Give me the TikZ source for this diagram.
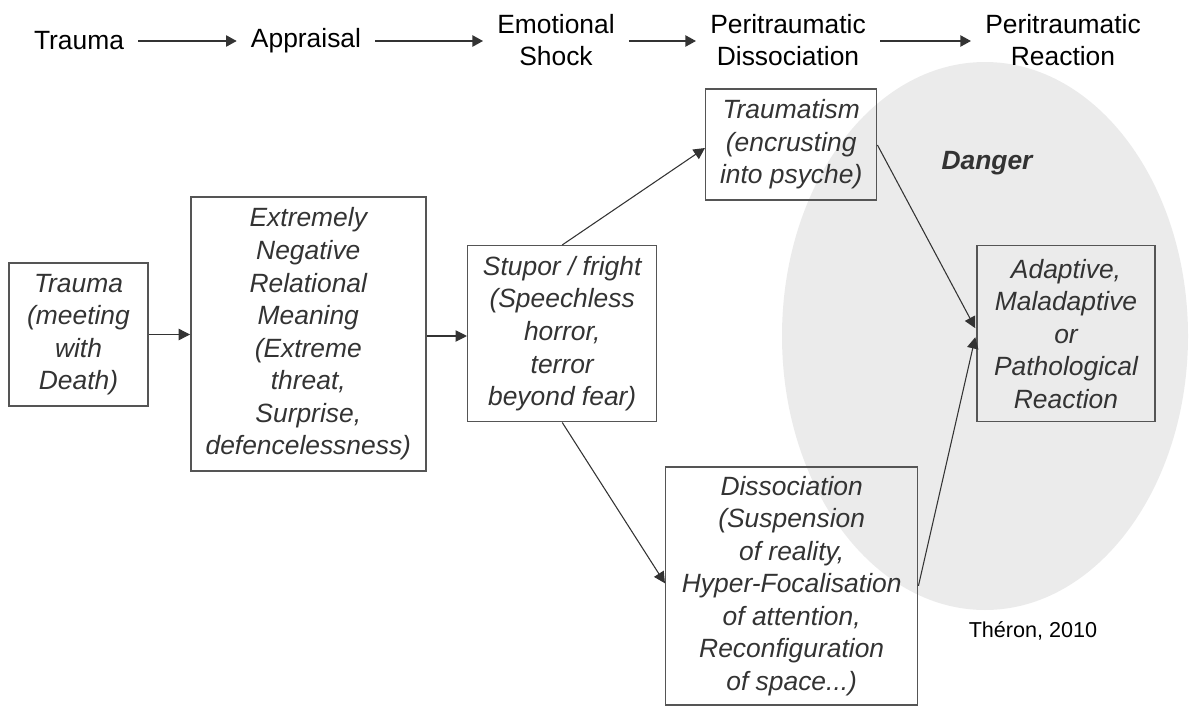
\documentclass[tikz,border=0pt]{standalone}
\usepackage{fontspec}
\setmainfont{Liberation Sans}
\usetikzlibrary{arrows.meta,calc}
\definecolor{zonegray}{HTML}{EBEBEB}
\definecolor{boxline}{HTML}{555555}
\definecolor{boxtext}{HTML}{333333}
\definecolor{linkcol}{HTML}{333333}
\begin{document}
\begin{tikzpicture}[x=0.75pt,y=-0.75pt,
  stage/.style={align=center,inner xsep=10.5pt,inner ysep=0pt,
    font=\fontsize{19.8pt}{23.5pt}\selectfont},
  stagearrow/.style={draw=black!80,line width=1.1pt,-{Triangle[length=8pt,width=8.5pt]}},
  boxnode/.style={draw=boxline,line width=1.1pt,inner sep=0pt,align=center,
    text=boxtext,font=\fontsize{19.8pt}{24.4pt}\selectfont\itshape},
  link/.style={draw=linkcol,line width=0.8pt,-{Triangle[length=8.5pt,width=8.5pt]}}
]
\useasboundingbox (0,0) rectangle (1193,707);

% shaded danger zone
\fill[zonegray] (985,336) ellipse [x radius=152.25pt, y radius=205.5pt];

% stage headings
\node[stage] (t1) at (79,41) {Trauma};
\node[stage] (t2) at (306,41) {Appraisal};
\node[stage] (t3) at (556,40) {Emotional\\Shock};
\node[stage] (t4) at (788,40) {Peritraumatic\\Dissociation};
\node[stage] (t5) at (1063,40) {Peritraumatic\\Reaction};
\draw[stagearrow] (t1.east) -- (t1.east -| t2.west);
\draw[stagearrow] (t2.east) -- (t2.east -| t3.west);
\draw[stagearrow] (t1.east -| t3.east) -- (t1.east -| t4.west);
\draw[stagearrow] (t1.east -| t4.east) -- (t1.east -| t5.west);

% process boxes
\node[boxnode,minimum width=104.25pt,minimum height=107.25pt] (b1) at (78.5,334.5)
  {Trauma\\(meeting\\with\\Death)};
\node[boxnode,minimum width=176.25pt,minimum height=205.5pt] (b2) at (308.3,334)
  {Extremely\\Negative\\Relational\\Meaning\\(Extreme\\threat,\\Surprise,\\defencelessness)};
\node[boxnode,minimum width=141.75pt,minimum height=132pt] (b3) at (562.2,333.7)
  {Stupor / fright\\(Speechless\\horror,\\terror\\beyond fear)};
\node[boxnode,minimum width=128.25pt,minimum height=83.25pt] (b4) at (791.2,144.5)
  {Traumatism\\(encrusting\\into psyche)};
\node[boxnode,minimum width=133.5pt,minimum height=132pt] (b5) at (1066,333.7)
  {Adaptive,\\Maladaptive\\or\\Pathological\\Reaction};
\node[boxnode,minimum width=189pt,minimum height=178.5pt] (b6) at (791.7,585.8)
  {Dissociation\\(Suspension\\of reality,\\Hyper-Focalisation\\of attention,\\Reconfiguration\\of space...)};

% labels
\node[font=\fontsize{19.8pt}{24pt}\selectfont\bfseries\itshape,text=boxtext] (danger) at (987,163) {Danger};
\node[font=\fontsize{16.2pt}{19pt}\selectfont] (src) at (1033,631) {Théron, 2010};

% connectors
\draw[link] (b1.east) -- (b1.east -| b2.west);
\draw[link] ($(b2.east)+(0,2)$) -- ($(b2.east -| b3.west)+(0,2)$);
\draw[link] (b3.north) -- ($(b4.west)+(0,3.5)$);
\draw[link] (b3.south) -- ($(b6.west)+(0,-2.5)$);
\draw[link] ($(b4.east)+(0,0.5)$) -- ($(b5.west)+(-1,-5.5)$);
\draw[link] (b6.east) -- ($(b5.west)+(-1,3.5)$);
\end{tikzpicture}
\end{document}
